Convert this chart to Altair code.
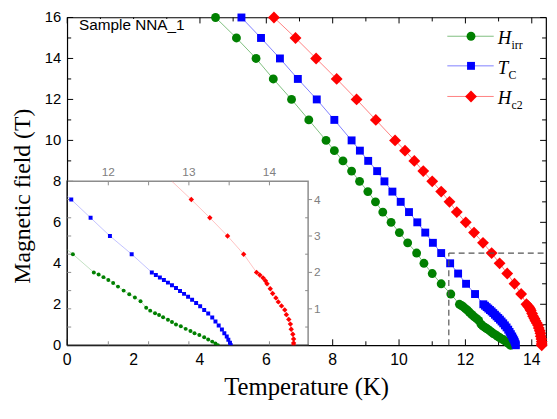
import altair as alt
import pandas as pd

# ---------------- data ----------------
H_UPPER = [16, 15, 14, 13, 12, 11, 10, 9.5, 9, 8.5, 8, 7.5, 7, 6.5, 6, 5.5, 5, 4.5, 4, 3.5, 3, 2.5]

HIRR_T = [4.47, 5.10, 5.69, 6.21, 6.76, 7.28, 7.80, 8.05, 8.31, 8.57, 8.81, 9.06, 9.29, 9.51,
          9.76, 10.01, 10.26, 10.53, 10.75, 11.00, 11.27, 11.56,
          11.82, 11.88, 11.94, 12.00, 12.06, 12.12, 12.19, 12.26, 12.33, 12.40, 12.47, 12.52,
          12.58, 12.63, 12.68, 12.74, 12.79, 12.84, 12.90, 12.96, 13.02, 13.07, 13.13, 13.19,
          13.24, 13.29, 13.33, 13.36]
HIRR_H = H_UPPER + [2.00, 1.94, 1.87, 1.79, 1.71, 1.61, 1.50, 1.40, 1.31, 1.21, 1.03, 0.95,
                    0.88, 0.83, 0.77, 0.70, 0.64, 0.57, 0.52, 0.45, 0.39, 0.33, 0.28, 0.22,
                    0.16, 0.10, 0.05, 0.00]

TC_T = [5.25, 5.84, 6.41, 6.95, 7.52, 8.05, 8.57, 8.82, 9.07, 9.34, 9.56, 9.80, 10.05, 10.30,
        10.55, 10.79, 11.02, 11.27, 11.54, 11.78, 12.02, 12.29,
        12.54, 12.59, 12.64, 12.69, 12.74, 12.79, 12.84, 12.89, 12.94, 12.99, 13.04, 13.09,
        13.14, 13.19, 13.24, 13.29, 13.33, 13.37, 13.41, 13.44, 13.47, 13.49, 13.51, 13.52]
TC_H = H_UPPER + [2.00, 1.93, 1.86, 1.79, 1.72, 1.65, 1.57, 1.49, 1.41, 1.33, 1.25, 1.16,
                  1.07, 0.97, 0.87, 0.76, 0.65, 0.54, 0.43, 0.33, 0.24, 0.15, 0.07, 0.00]

HC2_T = [6.23, 6.88, 7.50, 8.12, 8.72, 9.30, 9.88, 10.18, 10.46, 10.73, 11.00, 11.27, 11.52,
         11.74, 12.01, 12.26, 12.53, 12.79, 13.03, 13.26, 13.48, 13.68,
         13.84, 13.88, 13.92, 13.95, 13.97, 14.01, 14.04, 14.08, 14.11, 14.15, 14.19, 14.21,
         14.24, 14.26, 14.27, 14.29, 14.30, 14.30, 14.30]
HC2_H = H_UPPER + [2.00, 1.93, 1.85, 1.77, 1.69, 1.55, 1.42, 1.30, 1.19, 1.08, 0.97, 0.84,
                   0.71, 0.58, 0.44, 0.30, 0.17, 0.06, 0.00]

MAIN_X_DOMAIN = [0, 14.43]
MAIN_Y_DOMAIN = [0, 16]
MAIN_X_LABELS = [0, 2, 4, 6, 8, 10, 12, 14]
MAIN_Y_LABELS = [0, 2, 4, 6, 8, 10, 12, 14, 16]
MAIN_X_MINOR = [1, 3, 5, 7, 9, 11, 13]
MAIN_Y_MINOR = [1, 3, 5, 7, 9, 11, 13, 15]

INSET_X_DOMAIN = [11.49, 14.48]
INSET_Y_DOMAIN = [0, 4.5]
INSET_X_LABELS = [12, 13, 14]
INSET_X_MINOR = [12.5, 13.5]
INSET_Y_LABELS = [1, 2, 3, 4]
INSET_Y_MINOR = [0.5, 1.5, 2.5, 3.5]

ZOOM_BOX_T = [11.5, 14.43]
ZOOM_BOX_H = [0, 4.5]

X_TITLE = "Temperature (K)"
Y_TITLE = "Magnetic field (T)"
SAMPLE_LABEL = "Sample NNA_1"
LEGEND_MAIN = ["H", "T", "H"]
LEGEND_SUB = ["irr", "C", "c2"]

# ---------------- layout / style ----------------
W, HGT = 485, 332
INSET_R, INSET_TOP = 244, 166

SERIES = [
    ("Hirr", HIRR_T, HIRR_H, "circle", 81, 16, "#008000", "#7fbf7f"),
    ("Tc", TC_T, TC_H, "square", 64, 16, "#0000ff", "#7f7fff"),
    ("Hc2", HC2_T, HC2_H, "diamond", 144, 30, "#ff0000", "#ff8080"),
]

xs = alt.Scale(domain=MAIN_X_DOMAIN, nice=False, zero=False)
ys = alt.Scale(domain=MAIN_Y_DOMAIN, nice=False, zero=False)
xi = alt.Scale(domain=INSET_X_DOMAIN, range=[0, INSET_R], nice=False, zero=False)
yi = alt.Scale(domain=INSET_Y_DOMAIN, range=[HGT, INSET_TOP], nice=False, zero=False)

one = pd.DataFrame({"a": [0]})

main_layers = []


def xticks(vals, y0, y1):
    return alt.Chart(pd.DataFrame({"v": vals})).mark_rule(color="black", strokeWidth=1).encode(
        x=alt.X("v:Q", scale=xs, axis=None), y=alt.value(y0), y2=alt.value(y1))


def yticks(vals, x0, x1):
    return alt.Chart(pd.DataFrame({"v": vals})).mark_rule(color="black", strokeWidth=1).encode(
        y=alt.Y("v:Q", scale=ys, axis=None), x=alt.value(x0), x2=alt.value(x1))


main_layers += [
    xticks(MAIN_X_LABELS, HGT, HGT - 6), xticks(MAIN_X_MINOR, HGT, HGT - 4),
    xticks(MAIN_X_LABELS, 0, 6), xticks(MAIN_X_MINOR, 0, 4),
    yticks(MAIN_Y_LABELS, 0, 6), yticks(MAIN_Y_MINOR, 0, 4),
    yticks(MAIN_Y_LABELS, W, W - 6), yticks(MAIN_Y_MINOR, W, W - 4),
]

# tick labels and titles
main_layers.append(alt.Chart(pd.DataFrame({"v": MAIN_X_LABELS})).mark_text(
    font="Liberation Sans", fontSize=16, color="black", baseline="middle", align="center").encode(
    x=alt.X("v:Q", scale=xs, axis=None), y=alt.value(HGT + 15), text=alt.Text("v:Q", format="d")))
main_layers.append(alt.Chart(pd.DataFrame({"v": MAIN_Y_LABELS})).mark_text(
    font="Liberation Sans", fontSize=15, color="black", baseline="middle", align="right").encode(
    y=alt.Y("v:Q", scale=ys, axis=None), x=alt.value(-6), text=alt.Text("v:Q", format="d")))
main_layers.append(alt.Chart(one).mark_text(
    text=X_TITLE, font="Liberation Serif", fontSize=25, color="black", baseline="alphabetic",
    align="center").encode(x=alt.value(W / 2), y=alt.value(HGT + 50)))
main_layers.append(alt.Chart(one).mark_text(
    text=Y_TITLE, font="Liberation Serif", fontSize=24, color="black", baseline="alphabetic",
    align="center", angle=270).encode(x=alt.value(-38), y=alt.value(181)))

frames = {}
for name, T, Hh, shape, size, isize, col, lcol in SERIES:
    frames[name] = pd.DataFrame({"T": T, "H": Hh, "idx": list(range(len(T)))})

for name, T, Hh, shape, size, isize, col, lcol in SERIES:
    df = frames[name]
    main_layers.append(alt.Chart(df).mark_line(color=lcol, strokeWidth=1).encode(
        x=alt.X("T:Q", scale=xs, axis=None), y=alt.Y("H:Q", scale=ys, axis=None), order="idx:Q"))
for name, T, Hh, shape, size, isize, col, lcol in SERIES:
    df = frames[name]
    main_layers.append(alt.Chart(df).mark_point(filled=True, shape=shape, size=size, color=col,
                                                 opacity=1, strokeWidth=0).encode(
        x=alt.X("T:Q", scale=xs, axis=None), y=alt.Y("H:Q", scale=ys, axis=None)))

# dashed zoom box
box = pd.DataFrame({"x1": [ZOOM_BOX_T[0], ZOOM_BOX_T[0]], "x2": [ZOOM_BOX_T[0], ZOOM_BOX_T[1]],
                    "y1": [ZOOM_BOX_H[0], ZOOM_BOX_H[1]], "y2": [ZOOM_BOX_H[1], ZOOM_BOX_H[1]]})
main_layers.append(alt.Chart(box).mark_rule(color="#555555", strokeWidth=1.2, strokeDash=[6, 4]).encode(
    x=alt.X("x1:Q", scale=xs, axis=None), x2="x2:Q",
    y=alt.Y("y1:Q", scale=ys, axis=None), y2="y2:Q"))

# legend
LEG_ROWS = [19, 49, 80]
for i, (name, T, Hh, shape, size, isize, col, lcol) in enumerate(SERIES):
    ry = LEG_ROWS[i]
    main_layers.append(alt.Chart(one).mark_rule(color=lcol, strokeWidth=1).encode(
        x=alt.value(385), x2=alt.value(432), y=alt.value(ry)))
    main_layers.append(alt.Chart(one).mark_point(filled=True, shape=shape, size=size, color=col,
                                                  opacity=1, strokeWidth=0).encode(
        x=alt.value(409), y=alt.value(ry)))
    main_layers.append(alt.Chart(one).mark_text(text=LEGEND_MAIN[i], font="Liberation Serif",
                                                 fontStyle="italic", fontSize=19, align="left",
                                                 baseline="alphabetic", color="black").encode(
        x=alt.value(436), y=alt.value(ry + 8)))
    main_layers.append(alt.Chart(one).mark_text(text=LEGEND_SUB[i], font="Liberation Serif",
                                                 fontSize=12, align="left",
                                                 baseline="alphabetic", color="black").encode(
        x=alt.value(450 if LEGEND_MAIN[i] == "H" else 447), y=alt.value(ry + 13)))

# sample label on an opaque box (hides the frame ticks behind it, as in the reference)
main_layers.append(alt.Chart(one).mark_rect(fill="white", stroke=None).encode(
    x=alt.value(9), x2=alt.value(128), y=alt.value(1.5), y2=alt.value(18)))
main_layers.append(alt.Chart(one).mark_text(text=SAMPLE_LABEL, font="Liberation Sans",
                                             fontSize=15.5, align="left", baseline="alphabetic",
                                             color="black").encode(
    x=alt.value(12), y=alt.value(13)))

main = alt.layer(*main_layers)

# ---------------- inset ----------------
GRAY = "#8c8c8c"
inset_layers = []
inset_layers.append(alt.Chart(pd.DataFrame({"x1": [INSET_X_DOMAIN[0]], "x2": [INSET_X_DOMAIN[1]],
                                            "y1": [INSET_Y_DOMAIN[0]], "y2": [INSET_Y_DOMAIN[1]]}))
                    .mark_rect(fill="white", stroke=GRAY, strokeWidth=1.5).encode(
    x=alt.X("x1:Q", scale=xi, axis=None), x2="x2:Q",
    y=alt.Y("y1:Q", scale=yi, axis=None), y2="y2:Q"))
# main frame edges shared with the inset stay black
inset_layers.append(alt.Chart(one).mark_rule(color="black", strokeWidth=1.2).encode(
    x=alt.value(0), x2=alt.value(0), y=alt.value(INSET_TOP - 1), y2=alt.value(HGT)))
inset_layers.append(alt.Chart(one).mark_rule(color="black", strokeWidth=1.2).encode(
    x=alt.value(0), x2=alt.value(INSET_R + 1), y=alt.value(HGT), y2=alt.value(HGT)))


def ixticks(vals, y0, y1):
    return alt.Chart(pd.DataFrame({"v": vals})).mark_rule(color=GRAY, strokeWidth=1).encode(
        x=alt.X("v:Q", scale=xi, axis=None), y=alt.value(y0), y2=alt.value(y1))


def iyticks(vals, x0, x1):
    return alt.Chart(pd.DataFrame({"v": vals})).mark_rule(color=GRAY, strokeWidth=1).encode(
        y=alt.Y("v:Q", scale=yi, axis=None), x=alt.value(x0), x2=alt.value(x1))


allx = INSET_X_LABELS + INSET_X_MINOR
ally = INSET_Y_LABELS + INSET_Y_MINOR
inset_layers += [
    ixticks(allx, INSET_TOP, INSET_TOP + 4), ixticks(allx, HGT, HGT - 4),
    iyticks(ally, 0, 4),
    iyticks(INSET_Y_LABELS, INSET_R, INSET_R + 4), iyticks(INSET_Y_MINOR, INSET_R, INSET_R - 3),
]
inset_layers.append(alt.Chart(pd.DataFrame({"v": INSET_X_LABELS})).mark_text(
    color="#808080", fontSize=12, font="Liberation Sans", baseline="middle", align="center").encode(
    x=alt.X("v:Q", scale=xi, axis=None), y=alt.value(INSET_TOP - 9), text=alt.Text("v:Q", format="d")))
inset_layers.append(alt.Chart(pd.DataFrame({"v": INSET_Y_LABELS})).mark_text(
    color="#808080", fontSize=12, font="Liberation Sans", baseline="middle", align="left").encode(
    y=alt.Y("v:Q", scale=yi, axis=None), x=alt.value(INSET_R + 6), text=alt.Text("v:Q", format="d")))

for name, T, Hh, shape, size, isize, col, lcol in SERIES:
    df = frames[name]
    dl = df[df["H"] <= INSET_Y_DOMAIN[1]]
    inset_layers.append(alt.Chart(dl).mark_line(color=lcol, strokeWidth=0.8, opacity=0.6, clip=True).encode(
        x=alt.X("T:Q", scale=xi, axis=None), y=alt.Y("H:Q", scale=yi, axis=None), order="idx:Q"))
for name, T, Hh, shape, size, isize, col, lcol in SERIES:
    df = frames[name]
    dp = df[df["H"] < INSET_Y_DOMAIN[1]]
    inset_layers.append(alt.Chart(dp).mark_point(filled=True, shape=shape, size=isize, color=col,
                                                  opacity=1, strokeWidth=0, clip=True).encode(
        x=alt.X("T:Q", scale=xi, axis=None), y=alt.Y("H:Q", scale=yi, axis=None)))

inset = alt.layer(*inset_layers)

chart = alt.layer(main, inset).resolve_scale(x="independent", y="independent").properties(
    width=W, height=HGT,
    padding={"left": 60, "top": 7, "right": 3, "bottom": 64},
    autosize=alt.AutoSizeParams(type="none"),
).configure_view(stroke="black", strokeWidth=1.2)

chart.save("out.html", embed_options={"renderer": "svg", "actions": False})
